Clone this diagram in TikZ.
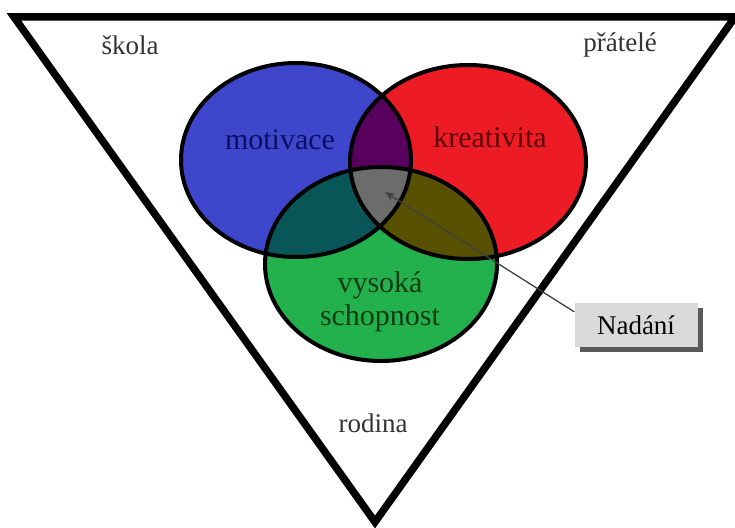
\documentclass[tikz,border=0pt]{standalone}
\usepackage{fontspec}
\setmainfont{Liberation Serif}
\usetikzlibrary{shadows,arrows.meta}
\definecolor{motblue}{RGB}{62,70,204}
\definecolor{krered}{RGB}{237,28,36}
\definecolor{schgreen}{RGB}{34,177,76}
\definecolor{mixpurple}{RGB}{88,0,94}
\definecolor{mixteal}{RGB}{8,86,88}
\definecolor{mixolive}{RGB}{88,82,0}
\definecolor{mixgray}{RGB}{108,108,108}
\newcommand{\motpath}{(296,160) ellipse [x radius=115pt,y radius=97pt]}
\newcommand{\krepath}{(468,162) ellipse [x radius=118pt,y radius=97pt]}
\newcommand{\schpath}{(381,264) ellipse [x radius=116pt,y radius=97pt]}

\begin{document}
\begin{tikzpicture}[x=1pt,y=-1pt,>={Stealth[length=10pt,width=8pt]},
  placelabel/.style={text=black!80,font=\fontsize{27}{30}\selectfont},
  vennlabel/.style={font=\fontsize{30}{33}\selectfont,align=center},
  nadanibox/.style={fill=gray!30,minimum width=123pt,minimum height=44pt,
    font=\fontsize{27}{30}\selectfont,
    drop shadow={shadow xshift=5pt,shadow yshift=-5pt,fill=black!65,opacity=1}}]
  \useasboundingbox (0,0) rectangle (735,527);
  \draw[line width=7.5pt,line join=miter](14,17)--(735,17)--(375,522)--cycle;
  % three circles
  \fill[motblue]\motpath;
  \fill[krered]\krepath;
  \fill[schgreen]\schpath;
  \begin{scope}
    \clip\motpath;
    \fill[mixpurple]\krepath;
    \fill[mixteal]\schpath;
  \end{scope}
  \begin{scope}
    \clip\krepath;
    \fill[mixolive]\schpath;
  \end{scope}
  \begin{scope}
    \clip\motpath;
    \clip\krepath;
    \fill[mixgray]\schpath;
  \end{scope}
  \draw[line width=4pt]\motpath \krepath \schpath;
  % labels
  \node[placelabel] (skola) at (130,45) {škola};
  \node[placelabel] (pratele) at (620,45) {přátelé};
  \node[placelabel] (rodina) at (373,423) {rodina};
  \node[vennlabel,text={rgb,255:red,12;green,16;blue,96}] (motivace) at (280,140) {motivace};
  \node[vennlabel,text={rgb,255:red,92;green,0;blue,0}] (kreativita) at (490,137) {kreativita};
  \node[vennlabel,text={rgb,255:red,10;green,60;blue,18}] (schopnost) at (380,302) {vysoká\\schopnost};
  \node[nadanibox] (nadani) at (636,325) {Nadání};
  \coordinate (tip) at (385,192);
  \draw[->,line width=1.3pt,black!75](nadani.168)--(tip);
\end{tikzpicture}
\end{document}
